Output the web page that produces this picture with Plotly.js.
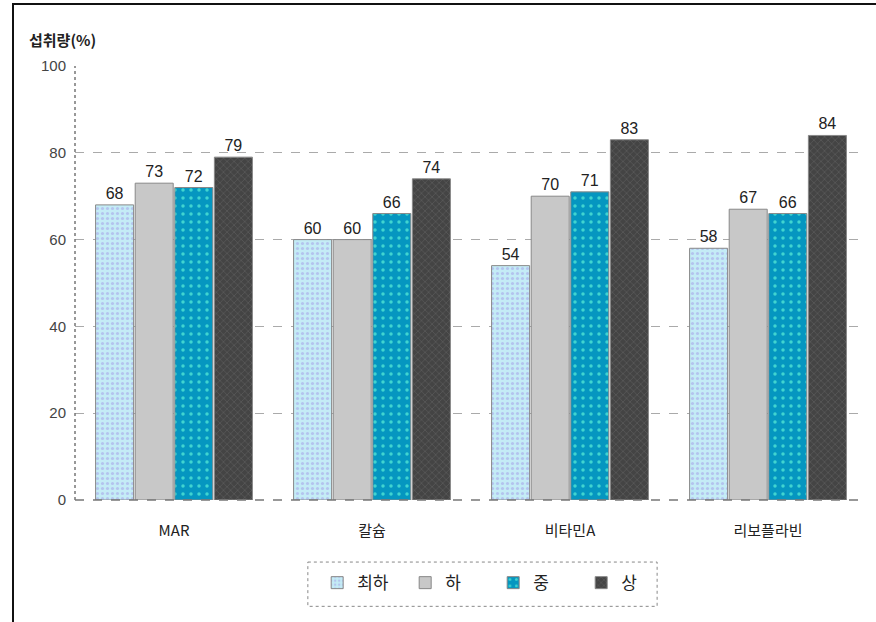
<!DOCTYPE html>
<html>
<head>
<meta charset="utf-8">
<script src="https://cdn.plot.ly/plotly-3.0.1.min.js"></script>
<style>
html,body{margin:0;padding:0;background:#fff;}
#wrap{position:relative;width:876px;height:622px;}
#chart{width:876px;height:622px;}
#frame{position:absolute;left:12px;top:3px;width:870px;height:630px;border-top:2px solid #111;border-left:2px solid #111;pointer-events:none;}
</style>
</head>
<body>
<div id="wrap"><div id="chart"></div><div id="frame"></div></div>
<script>
const categories = ['MAR', '칼슘', '비타민A', '리보플라빈'];
const seriesNames = ['최하', '하', '중', '상'];
const v_choeha = [68, 60, 54, 58];
const v_ha = [73, 60, 70, 67];
const v_jung = [72, 66, 71, 66];
const v_sang = [79, 74, 83, 84];
const yTicks = [0, 20, 40, 60, 80, 100];

const styles = [
  {color:'#c4ecf6', fg:'#b4c4ee', shape:'.', size:5, sol:0.3},
  {color:'#c8c8c8', fg:'#c8c8c8', shape:'', size:5, sol:0.3},
  {color:'#0596c0', fg:'#40d4d0', shape:'.', size:8, sol:0.15},
  {color:'#444444', fg:'#585858', shape:'x', size:5, sol:0.3}
];
const vals = [v_choeha, v_ha, v_jung, v_sang];
const font = "'Liberation Sans', 'Noto Sans CJK KR', sans-serif";

const data = vals.map((v, i) => ({
  type:'bar', name:seriesNames[i], x:categories, y:v,
  text:v.map(String), textposition:'outside', cliponaxis:false,
  textfont:{family:font, size:16, color:'#222'},
  marker:{color:styles[i].color, line:{color:'#888', width:1},
    pattern:{shape:styles[i].shape, fgcolor:styles[i].fg, bgcolor:styles[i].color, size:styles[i].size, solidity:styles[i].sol}},
  hoverinfo:'skip'
}));

const layout = {
  width:876, height:622,
  margin:{l:75, r:9, t:66, b:122},
  paper_bgcolor:'#fff', plot_bgcolor:'#fff',
  barmode:'group', bargap:0.2, bargroupgap:0.04,
  font:{family:font, color:'#222'},
  showlegend:true,
  legend:{orientation:'h', x:0.528, xanchor:'center', y:-0.15, yanchor:'top',
    font:{family:"'Noto Sans CJK KR', sans-serif", size:17, color:'#222'},
    entrywidth:43, entrywidthmode:'pixels',
    itemwidth:30, traceorder:'normal', bgcolor:'rgba(0,0,0,0)'},
  xaxis:{type:'category', showgrid:false, showline:false, zeroline:false,
    ticks:'', ticklabelstandoff:20,
    tickfont:{family:"'Noto Sans CJK KR', sans-serif", size:15, color:'#222'}},
  yaxis:{range:[0,100], tickvals:yTicks, ticktext:yTicks.map(String),
    showgrid:true, gridcolor:'#aaa', griddash:'dash', gridwidth:1,
    zeroline:false, showline:false, ticks:'', ticklabelstandoff:8,
    tickfont:{family:font, size:15, color:'#444'}},
  annotations:[{xref:'paper', yref:'paper', x:-0.06, y:1.06, xanchor:'left', yanchor:'middle',
    text:'<b>섭취량(%)</b>', showarrow:false,
    font:{family:"'Noto Sans CJK KR', sans-serif", size:15, color:'#222'}}],
  shapes:[
    {type:'line', xref:'paper', yref:'paper', x0:0, x1:0, y0:0, y1:1, line:{color:'#777', width:1.5, dash:'dot'}},
    {type:'line', xref:'paper', yref:'paper', x0:0, x1:1, y0:0, y1:0, line:{color:'#777', width:1.5, dash:'dash'}},
    {type:'rect', xref:'paper', yref:'paper', x0:0.294, x1:0.735, y0:-0.143, y1:-0.245, line:{color:'#888', width:1, dash:'dot'}}
  ]
};

Plotly.newPlot('chart', data, layout, {staticPlot:true});
</script>
</body>
</html>
